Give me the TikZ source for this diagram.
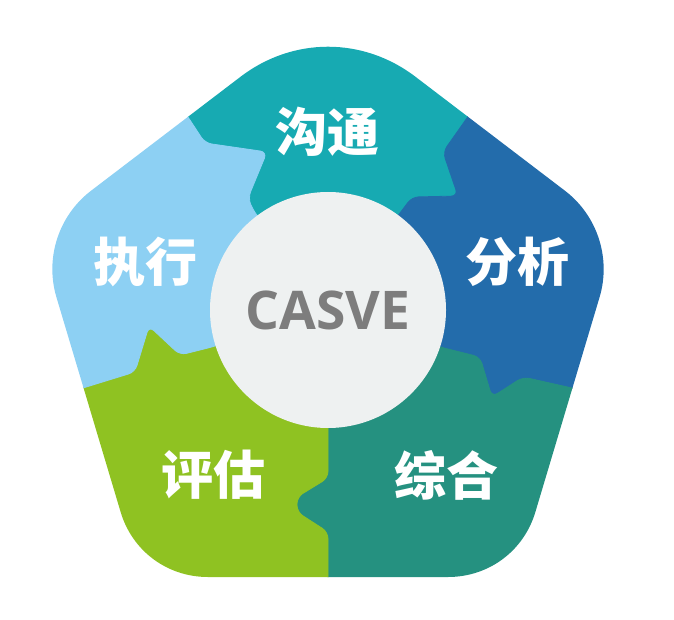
\documentclass[tikz,border=0pt]{standalone}
\usepackage{fontspec}
\usepackage{tikz}
\newfontfamily\cjkfont{Noto Sans CJK SC}
\newfontfamily\casvefont{Open Sans}

\definecolor{commcol}{HTML}{17AAB2}
\definecolor{analcol}{HTML}{236CAB}
\definecolor{synthcol}{HTML}{259180}
\definecolor{valucol}{HTML}{8FC222}
\definecolor{execcol}{HTML}{8DD0F3}
\definecolor{hubcol}{HTML}{EEF1F1}
\definecolor{casvegray}{HTML}{7D7D7D}

\begin{document}
\begin{tikzpicture}[
  x=0.75pt, y=-0.75pt,
  piece/.style = {rounded corners=5pt, line width=0.6pt},
  hub/.style = {circle, fill=hubcol, minimum size=177pt, inner sep=0pt, text=casvegray,
                font=\casvefont\bfseries\fontsize{40}{40}\selectfont},
  phase/.style = {text=white, font=\cjkfont\bfseries\fontsize{39}{39}\selectfont}
]
  \useasboundingbox (0,0) rectangle (674,620);

  % Boundary points
  \coordinate (c) at (328,310);
  \coordinate (a1) at (253,210);
  \coordinate (a2) at (248,198);
  \coordinate (a3) at (267,152);
  \coordinate (a4) at (205,143);
  \coordinate (a5) at (188,117);
  \coordinate (a6) at (163,82);
  \coordinate (b1) at (400,213);
  \coordinate (b2) at (412,197);
  \coordinate (b3) at (458,196);
  \coordinate (b4) at (443,152);
  \coordinate (b5) at (467,118);
  \coordinate (b6) at (485,92);
  \coordinate (c1) at (440,347);
  \coordinate (c2) at (480,357);
  \coordinate (c3) at (492,397);
  \coordinate (c4) at (523,377);
  \coordinate (c5) at (572,388);
  \coordinate (c6) at (640,404);
  \coordinate (d1) at (328,478);
  \coordinate (d2) at (297,497);
  \coordinate (d3) at (297,512);
  \coordinate (d4) at (328,532);
  \coordinate (d5) at (328,640);
  \coordinate (e1) at (212,347);
  \coordinate (e2) at (180,355);
  \coordinate (e3) at (149,326);
  \coordinate (e5) at (135,372);
  \coordinate (e6) at (83,388);
  \coordinate (e7) at (20,406);

  % Pieces
  \begin{scope}
    \clip (240.5,76.8) .. controls (293,36.7) and (363,36.7) .. (415.5,76.8)
      -- (564.9,190.7) .. controls (597.4,215.5) and (611.2,258) .. (599.6,297.1)
      -- (535.4,511.9) .. controls (523.8,551) and (488.8,577) .. (448,577)
      -- (208,577) .. controls (167.2,577) and (132.2,551) .. (120.6,511.9)
      -- (56.4,297.1) .. controls (44.8,258) and (58.6,215.5) .. (91.1,190.7)
      -- cycle;
    \filldraw[piece, fill=commcol, draw=commcol] (c) -- (a1) -- (a2) -- (a3) -- (a4) -- (a5) -- (a6)
      -- (328,-30) -- (b6) -- (b5) -- (b4) -- (b3) -- (b2) -- (b1) -- cycle;
    \filldraw[piece, fill=analcol, draw=analcol] (c) -- (b1) -- (b2) -- (b3) -- (b4) -- (b5) -- (b6)
      -- (700,200) -- (c6) -- (c5) -- (c4) -- (c3) -- (c2) -- (c1) -- cycle;
    \filldraw[piece, fill=synthcol, draw=synthcol] (c) -- (c1) -- (c2) -- (c3) -- (c4) -- (c5) -- (c6)
      -- (700,660) -- (d5) -- (d4) -- (d3) -- (d2) -- (d1) -- cycle;
    \filldraw[piece, fill=valucol, draw=valucol] (c) -- (d1) -- (d2) -- (d3) -- (d4) -- (d5)
      -- (-30,660) -- (e7) -- (e6) -- (e5) -- (e3) -- (e2) -- (e1) -- cycle;
    \filldraw[piece, fill=execcol, draw=execcol] (c) -- (e1) -- (e2) -- (e3) -- (e5) -- (e6) -- (e7)
      -- (-30,60) -- (a6) -- (a5) -- (a4) -- (a3) -- (a2) -- (a1) -- cycle;
  \end{scope}

  % Hub
  \node[hub] (casve) at (c) {\raisebox{-3pt}{CASVE}};

  % Phases
  \node[phase] (comm)  at (327,132) {沟通};
  \node[phase] (anal)  at (517,262) {分析};
  \node[phase] (synth) at (446,475) {综合};
  \node[phase] (valu)  at (213,475) {评估};
  \node[phase] (exec)  at (145,262) {执行};

\end{tikzpicture}
\end{document}
